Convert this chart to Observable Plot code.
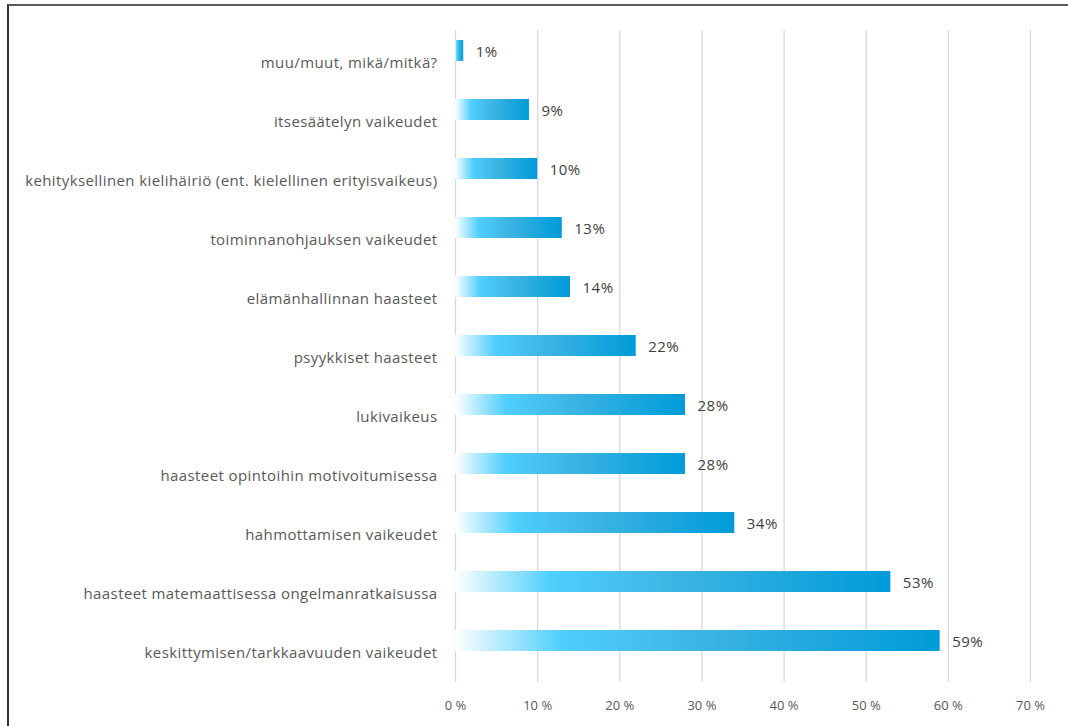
<!DOCTYPE html>
<html>
<head>
<meta charset="utf-8">
<script src="https://cdn.jsdelivr.net/npm/d3@7"></script>
<script src="https://cdn.jsdelivr.net/npm/@observablehq/plot@0.6"></script>
<style>
  html, body { margin: 0; padding: 0; background: #fff; }
  #wrap { position: relative; width: 1068px; height: 726px; overflow: hidden; }
  #frame { position: absolute; left: 7px; top: 4px; right: -10px; bottom: -10px;
           border-top: 2px solid #5a5a5a; border-left: 2px solid #333; pointer-events: none; }
  #chart { position: absolute; left: 0; top: 0; }
</style>
</head>
<body>
<div id="wrap"><div id="chart"></div><div id="frame"></div></div>
<script>
const categories = [
  "muu/muut, mikä/mitkä?",
  "itsesäätelyn vaikeudet",
  "kehityksellinen kielihäiriö (ent. kielellinen erityisvaikeus)",
  "toiminnanohjauksen vaikeudet",
  "elämänhallinnan haasteet",
  "psyykkiset haasteet",
  "lukivaikeus",
  "haasteet opintoihin motivoitumisessa",
  "hahmottamisen vaikeudet",
  "haasteet matemaattisessa ongelmanratkaisussa",
  "keskittymisen/tarkkaavuuden vaikeudet"
];
const values = [1, 9, 10, 13, 14, 22, 28, 28, 34, 53, 59];
const xTicks = [0, 10, 20, 30, 40, 50, 60, 70];

const data = categories.map((c, i) => ({category: c, value: values[i]}));

const font = "'Open Sans', 'DejaVu Sans', sans-serif";

const chart = Plot.plot({
  width: 1068,
  height: 726,
  marginLeft: 455,
  marginRight: 38,
  marginTop: 30,
  marginBottom: 44,
  style: {fontFamily: font, fontSize: "13px", color: "#595959", background: "transparent"},
  x: {domain: [0, 70], ticks: xTicks, tickFormat: d => d + " %", label: null},
  y: {domain: categories, range: [17.5, 673], paddingInner: 0.64, paddingOuter: 0.32, label: null},
  marks: [
    Plot.ruleX(xTicks, {stroke: "#d9d9d9", strokeWidth: 1.3}),
    Plot.barX(data, {y: "category", x: "value", fill: "url(#barGrad)"}),
    Plot.text(data, {y: "category", x: "value", text: d => d.value + "%", dx: 12, dy: 1, textAnchor: "start", fill: "#404040", fontSize: 15}),
    Plot.axisX({ticks: xTicks, tickFormat: d => d + " %", tickSize: 0, tickPadding: 18, fontSize: 13, fill: "#595959"}),
    Plot.axisY({tickSize: 0, tickPadding: 18, dy: 12, fontSize: 15, fill: "#595959"})
  ]
});

const svg = d3.select(chart);
svg.selectAll("[aria-label='y-axis tick label'] text").style("letter-spacing", "0.4px");
svg.selectAll("[aria-label='text'] text").style("letter-spacing", "0.5px");
const defs = svg.insert("defs", ":first-child");
const grad = defs.append("linearGradient").attr("id", "barGrad").attr("x1", "0").attr("x2", "1").attr("y1", "0").attr("y2", "0");
grad.append("stop").attr("offset", "0").attr("stop-color", "#ffffff");
grad.append("stop").attr("offset", "0.22").attr("stop-color", "#4fcffc");
grad.append("stop").attr("offset", "0.5").attr("stop-color", "#3db5e3");
grad.append("stop").attr("offset", "1").attr("stop-color", "#009bd9");

document.getElementById("chart").appendChild(chart);
</script>
</body>
</html>
